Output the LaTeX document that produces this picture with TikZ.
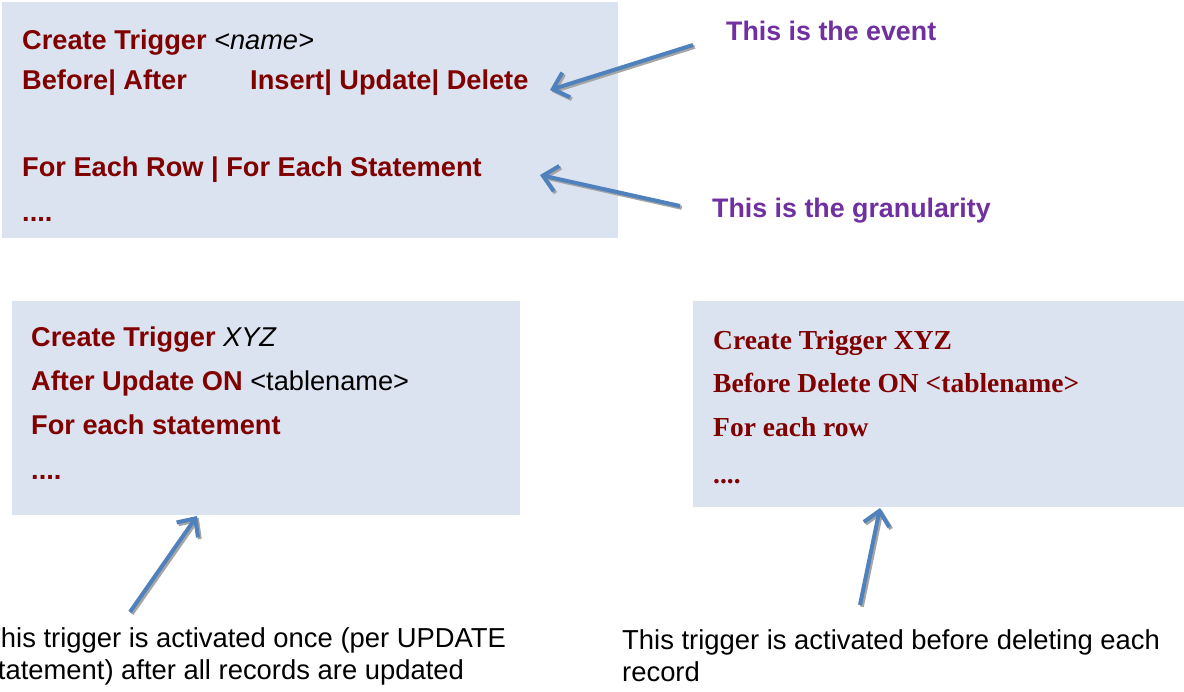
\documentclass[tikz,border=0pt]{standalone}
\usepackage{fontspec}
\setmainfont{Liberation Sans}
\newfontfamily\cambriafont{Liberation Serif}
\usetikzlibrary{arrows.meta}
\definecolor{boxfill}{RGB}{220,227,240}
\definecolor{kw}{RGB}{128,0,0}
\definecolor{lab}{RGB}{112,48,160}
\definecolor{arr}{RGB}{79,129,189}
\definecolor{shd}{RGB}{165,165,165}
\newcommand\mypointer[2]{%
  \draw[shadowarr,transform canvas={xshift=1.8pt,yshift=-1.8pt}] (#1) -- (#2);
  \draw[pointer] (#1) -- (#2);}
\begin{document}
\begin{tikzpicture}[x=1pt,y=-1pt,
  panel/.style={fill=boxfill,draw=none,inner sep=0pt,outer sep=0pt,anchor=north west},
  kwline/.style={anchor=base west,inner sep=0pt,font=\fontsize{27.2}{32}\selectfont\bfseries,text=kw},
  serline/.style={anchor=base west,inner sep=0pt,font=\cambriafont\fontsize{27.5}{32}\selectfont\bfseries,text=kw},
  plain/.style={anchor=base west,inner sep=0pt,font=\fontsize{27.4}{32}\selectfont,text=black},
  label/.style={anchor=base west,inner sep=0pt,font=\fontsize{26.8}{32}\selectfont\bfseries,text=lab},
  pointer/.style={draw=arr,line width=4pt,-{Straight Barb[length=14pt,width=26pt]}},
  shadowarr/.style={draw=shd,line width=4pt,-{Straight Barb[length=14pt,width=26pt]}}]
\useasboundingbox (0,0) rectangle (1184,692);
\fill[white] (0,0) rectangle (1184,692);
% panels
\node[panel,minimum width=616pt,minimum height=236pt] (b1) at (2,2) {};
\node[panel,minimum width=508pt,minimum height=214pt] (b2) at (12,301) {};
\node[panel,minimum width=491pt,minimum height=206pt] (b3) at (693,301) {};
% panel 1 text
\node[kwline] (t11) at (22,50) {Create Trigger \textmd{\itshape\color{black}<name>}};
\node[kwline] (t12a) at (22,90) {Before| After};
\node[kwline] (t12b) at (250,90) {Insert| Update| Delete};
\node[kwline] (t13) at (22,177) {For Each Row | For Each Statement};
\node[kwline] (t14) at (22,222) {....};
% panel 2 text
\node[kwline] (t21) at (31,347) {Create Trigger \textmd{\itshape\color{black}XYZ}};
\node[kwline] (t22) at (31,391) {After Update ON \textmd{\color{black}<tablename>}};
\node[kwline] (t23) at (31,435) {For each statement};
\node[kwline] (t24) at (31,480) {....};
% panel 3 text
\node[serline] (t31) at (713,350) {Create Trigger XYZ};
\node[serline] (t32) at (713,393) {Before Delete ON <tablename>};
\node[serline] (t33) at (713,437) {For each row};
\node[serline] (t34) at (713,483) {....};
% labels
\node[label] (l1) at (726,41) {This is the event};
\node[label] (l2) at (712,218) {This is the granularity};
\node[plain] (l3a) at (-16,647) {This trigger is activated once (per UPDATE};
\node[plain] (l3b) at (-16,679) {statement) after all records are updated};
\node[plain] (l4a) at (622,649) {This trigger is activated before deleting each};
\node[plain] (l4b) at (622,681) {record};
% arrow end points
\coordinate (a1s) at (693,45);
\coordinate (a1e) at (550,90);
\coordinate (a2s) at (680,206);
\coordinate (a2e) at (540,175);
\coordinate (a3s) at (130,612);
\coordinate (a3e) at (197,516);
\coordinate (a4s) at (860,605);
\coordinate (a4e) at (880,508);
\mypointer{a1s}{a1e}
\mypointer{a2s}{a2e}
\mypointer{a3s}{a3e}
\mypointer{a4s}{a4e}
\end{tikzpicture}
\end{document}
